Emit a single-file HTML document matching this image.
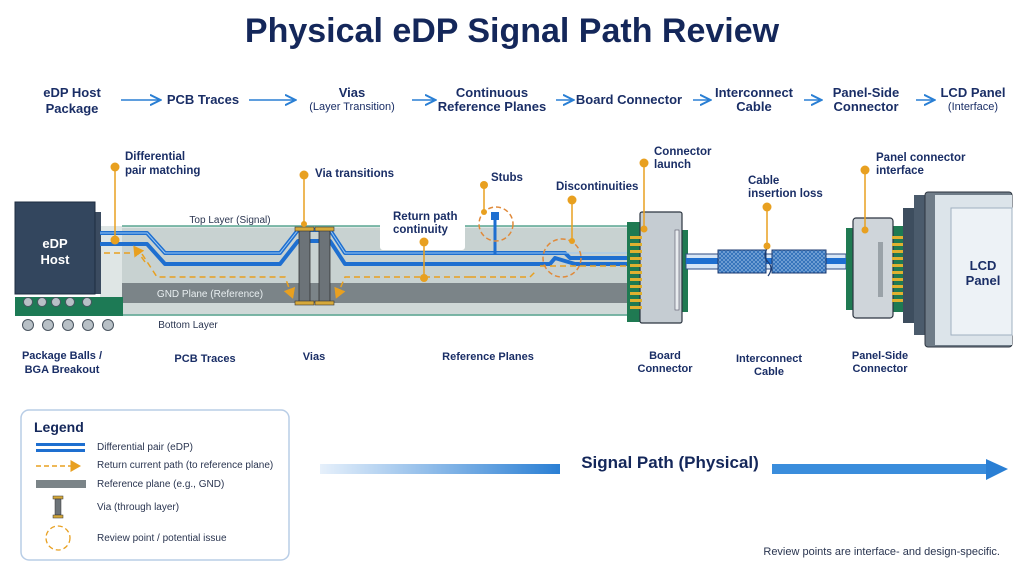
<!DOCTYPE html>
<html><head><meta charset="utf-8"><style>
html,body{margin:0;padding:0;background:#fff;}
svg{display:block;font-family:"Liberation Sans",sans-serif;}
</style></head><body>
<svg width="1024" height="576" viewBox="0 0 1024 576" xmlns="http://www.w3.org/2000/svg">
<defs>
<marker id="ab" markerWidth="8" markerHeight="8" refX="6" refY="4" orient="auto"><path d="M0,0.5 L7,4 L0,7.5" fill="none" stroke="#2a7fd4" stroke-width="1.3"/></marker>
<marker id="ao" markerWidth="8" markerHeight="8" refX="5" refY="4" orient="auto"><path d="M0,0 L7,4 L0,8 Z" fill="#e8a020"/></marker>
<linearGradient id="sg" x1="0" x2="1"><stop offset="0" stop-color="#e6f0fb"/><stop offset="1" stop-color="#2a7fd4"/></linearGradient>
<pattern id="br" width="4" height="4" patternUnits="userSpaceOnUse"><rect width="4" height="4" fill="#2f6fb8"/><path d="M0,4 L4,0 M0,0 L4,4" stroke="#8fb6e2" stroke-width="0.6"/></pattern>
</defs>
<text x="512" y="42" text-anchor="middle" font-size="34" font-weight="bold" fill="#14275a">Physical eDP Signal Path Review</text>

<g font-size="13" font-weight="bold" fill="#1a2e66" text-anchor="middle">
<text x="72" y="97">eDP Host</text><text x="72" y="113">Package</text>
<text x="203" y="104">PCB Traces</text>
<text x="352" y="97">Vias</text><text x="352" y="110" font-size="11" font-weight="normal">(Layer Transition)</text>
<text x="492" y="97">Continuous</text><text x="492" y="111">Reference Planes</text>
<text x="629" y="104">Board Connector</text>
<text x="754" y="97">Interconnect</text><text x="754" y="111">Cable</text>
<text x="866" y="97">Panel-Side</text><text x="866" y="111">Connector</text>
<text x="973" y="97">LCD Panel</text><text x="973" y="110" font-size="11" font-weight="normal">(Interface)</text>
</g>
<g stroke="#2a7fd4" stroke-width="1.5" marker-end="url(#ab)">
<line x1="121" y1="100" x2="159" y2="100"/><line x1="249" y1="100" x2="294" y2="100"/>
<line x1="412" y1="100" x2="434" y2="100"/><line x1="556" y1="100" x2="572" y2="100"/>
<line x1="693" y1="100" x2="709" y2="100"/><line x1="804" y1="100" x2="820" y2="100"/>
<line x1="916" y1="100" x2="933" y2="100"/>
</g>

<!-- PCB -->
<rect x="100" y="226" width="530" height="90" fill="#dfe6e5"/>
<rect x="122" y="228" width="508" height="55" fill="#c8d2d1"/>
<rect x="122" y="283" width="508" height="20" fill="#7b8488"/>
<rect x="122" y="303" width="508" height="12" fill="#cfd8d7"/>
<line x1="122" y1="226" x2="630" y2="226" stroke="#5aa592" stroke-width="1.5"/>
<line x1="122" y1="315" x2="630" y2="315" stroke="#5aa592" stroke-width="1.5"/>
<rect x="380" y="222" width="85" height="28" rx="3" fill="#fff"/>
<text x="230" y="223" text-anchor="middle" font-size="10" fill="#2a3550">Top Layer (Signal)</text>
<text x="210" y="297" text-anchor="middle" font-size="10" fill="#e8eef0">GND Plane (Reference)</text>
<text x="188" y="328" text-anchor="middle" font-size="10" fill="#2a3550">Bottom Layer</text>

<!-- host -->
<rect x="15" y="297" width="108" height="19" fill="#1d7a55"/>
<g fill="#b8c0c6" stroke="#4a5560" stroke-width="1">
<circle cx="28" cy="325" r="5.5"/><circle cx="48" cy="325" r="5.5"/><circle cx="68" cy="325" r="5.5"/><circle cx="88" cy="325" r="5.5"/><circle cx="108" cy="325" r="5.5"/>
<circle cx="28" cy="302" r="4.5"/><circle cx="42" cy="302" r="4.5"/><circle cx="56" cy="302" r="4.5"/><circle cx="70" cy="302" r="4.5"/><circle cx="87" cy="302" r="4.5"/>
</g>
<rect x="93" y="212" width="8" height="82" fill="#3b4b60"/>
<rect x="15" y="202" width="80" height="92" fill="#33465e" stroke="#1e2c40"/>
<text x="55" y="248" text-anchor="middle" font-size="13" font-weight="bold" fill="#fff">eDP</text>
<text x="55" y="264" text-anchor="middle" font-size="13" font-weight="bold" fill="#fff">Host</text>

<!-- traces -->
<g fill="none" stroke-linejoin="round">
<path d="M100,233 H147 L165,253 H280 L298,230 H330 L345,253 H490 L565,253 L570,258 H630" stroke="#1e6fd0" stroke-width="4"/>
<path d="M100,244 H147 L165,264 H280 L298,241 H330 L345,264 H550 L555,258 L575,264 H630" stroke="#1e6fd0" stroke-width="4"/>
<path d="M100,233 H147 L165,253 H280 L298,230 H330 L345,253 H630" stroke="#9cc8f2" stroke-width="1"/>
</g>
<line x1="495" y1="218" x2="495" y2="255" stroke="#1e6fd0" stroke-width="3"/>
<rect x="491" y="212" width="8" height="8" fill="#1e6fd0"/>
<!-- return path -->
<g fill="none" stroke="#e8a020" stroke-width="1.5" stroke-dasharray="6,4">
<path d="M104,253 H130 M142,254 L157,277 H285 L292,296" marker-end="url(#ao)"/>
<path d="M145,262 L135,248" marker-end="url(#ao)"/>
<path d="M470,277 H345 L337,296" marker-end="url(#ao)"/>
<path d="M470,277 L530,277 L535,272 M540,266 H630" />
</g>
<!-- vias -->
<g>
<rect x="299" y="230" width="11" height="72" fill="#6c7378" stroke="#333" stroke-width="0.8"/>
<rect x="319" y="230" width="11" height="72" fill="#6c7378" stroke="#333" stroke-width="0.8"/>
<rect x="295" y="227" width="19" height="4" fill="#d6a93a" stroke="#333" stroke-width="0.6"/>
<rect x="315" y="227" width="19" height="4" fill="#d6a93a" stroke="#333" stroke-width="0.6"/>
<rect x="295" y="301" width="19" height="4" fill="#d6a93a" stroke="#333" stroke-width="0.6"/>
<rect x="315" y="301" width="19" height="4" fill="#d6a93a" stroke="#333" stroke-width="0.6"/>
</g>
<!-- review circles -->
<circle cx="496" cy="224" r="17" fill="none" stroke="#e08a3a" stroke-width="1.5" stroke-dasharray="5,3"/>
<circle cx="562" cy="258" r="19" fill="none" stroke="#e08a3a" stroke-width="1.5" stroke-dasharray="5,3"/>

<!-- board connector -->
<rect x="627" y="222" width="14" height="100" fill="#1f7a52"/>
<rect x="680" y="230" width="8" height="82" fill="#1f7a52"/>
<rect x="640" y="212" width="42" height="111" rx="2" fill="#c5ccd2" stroke="#2c3540" stroke-width="1.2"/>
<rect x="675" y="230" width="4" height="80" fill="#e8ecef" stroke="#556" stroke-width="0.6"/>
<g fill="#e0b030">
<rect x="630" y="236" width="12" height="3"/><rect x="630" y="243" width="12" height="3"/><rect x="630" y="250" width="12" height="3"/><rect x="630" y="257" width="12" height="3"/><rect x="630" y="264" width="12" height="3"/><rect x="630" y="271" width="12" height="3"/><rect x="630" y="278" width="12" height="3"/><rect x="630" y="285" width="12" height="3"/><rect x="630" y="292" width="12" height="3"/><rect x="630" y="299" width="12" height="3"/><rect x="630" y="306" width="12" height="3"/>
</g>
<!-- cable -->
<rect x="686" y="254" width="160" height="15" fill="#d7e6f6" stroke="#2c4a80" stroke-width="1"/>
<rect x="686" y="258" width="160" height="6" fill="#1e6fd0"/>
<rect x="718" y="250" width="48" height="23" fill="url(#br)" stroke="#1b3a70"/>
<rect x="772" y="250" width="54" height="23" fill="url(#br)" stroke="#1b3a70"/>
<path d="M768,247 Q762,256 768,262 Q774,268 768,276" fill="none" stroke="#1b3a70" stroke-width="1.2"/>
<!-- panel connector -->
<rect x="846" y="228" width="8" height="82" fill="#1f7a52"/>
<rect x="892" y="226" width="20" height="86" fill="#1f7a52"/>
<rect x="853" y="218" width="40" height="100" rx="3" fill="#cfd5da" stroke="#2c3540" stroke-width="1.2"/>
<rect x="878" y="242" width="5" height="55" fill="#9aa2a8"/>
<g fill="#e0b030">
<rect x="892" y="236" width="12" height="3"/><rect x="892" y="243" width="12" height="3"/><rect x="892" y="250" width="12" height="3"/><rect x="892" y="257" width="12" height="3"/><rect x="892" y="264" width="12" height="3"/><rect x="892" y="271" width="12" height="3"/><rect x="892" y="278" width="12" height="3"/><rect x="892" y="285" width="12" height="3"/><rect x="892" y="292" width="12" height="3"/><rect x="892" y="299" width="12" height="3"/>
</g>
<!-- LCD -->
<rect x="903" y="208" width="14" height="115" fill="#3d4d5e"/>
<rect x="914" y="195" width="14" height="140" fill="#4b5b6c"/>
<rect x="925" y="192" width="87" height="155" rx="3" fill="#6f7c88" stroke="#2c3540"/>
<rect x="935" y="195" width="77" height="150" fill="#dce4ea"/>
<rect x="951" y="208" width="61" height="127" fill="#edf2f6" stroke="#9fb0c0"/>
<text x="983" y="270" text-anchor="middle" font-size="13" font-weight="bold" fill="#1a2e66">LCD</text>
<text x="983" y="285" text-anchor="middle" font-size="13" font-weight="bold" fill="#1a2e66">Panel</text>

<!-- callouts -->
<g stroke="#e8a020" stroke-width="1.5">
<line x1="115" y1="167" x2="115" y2="240"/><line x1="304" y1="175" x2="304" y2="224"/>
<line x1="484" y1="185" x2="484" y2="212"/><line x1="424" y1="242" x2="424" y2="278"/>
<line x1="572" y1="200" x2="572" y2="241"/><line x1="644" y1="163" x2="644" y2="229"/>
<line x1="767" y1="207" x2="767" y2="246"/><line x1="865" y1="170" x2="865" y2="230"/>
</g>
<g fill="#e8a020">
<circle cx="115" cy="167" r="4.5"/><circle cx="115" cy="240" r="4.5"/><circle cx="304" cy="175" r="4.5"/><circle cx="304" cy="224" r="3"/>
<circle cx="484" cy="185" r="4"/><circle cx="484" cy="212" r="3"/><circle cx="424" cy="242" r="4.5"/><circle cx="424" cy="278" r="4"/>
<circle cx="572" cy="200" r="4.5"/><circle cx="572" cy="241" r="3"/><circle cx="644" cy="163" r="4.5"/><circle cx="644" cy="229" r="3.5"/>
<circle cx="767" cy="207" r="4.5"/><circle cx="767" cy="246" r="3.5"/><circle cx="865" cy="170" r="4.5"/><circle cx="865" cy="230" r="3.5"/>
</g>
<g font-size="11.5" font-weight="bold" fill="#1a2e66">
<text x="125" y="160">Differential</text><text x="125" y="174">pair matching</text>
<text x="315" y="177">Via transitions</text>
<text x="491" y="181">Stubs</text>
<text x="393" y="220">Return path</text><text x="393" y="233">continuity</text>
<text x="556" y="190">Discontinuities</text>
<text x="654" y="155">Connector</text><text x="654" y="168">launch</text>
<text x="748" y="184">Cable</text><text x="748" y="197">insertion loss</text>
<text x="876" y="161">Panel connector</text><text x="876" y="174">interface</text>
</g>

<g font-size="11" font-weight="bold" fill="#1a2e66" text-anchor="middle">
<text x="62" y="359">Package Balls /</text><text x="62" y="373">BGA Breakout</text>
<text x="205" y="362">PCB Traces</text>
<text x="314" y="360">Vias</text>
<text x="488" y="360">Reference Planes</text>
<text x="665" y="359">Board</text><text x="665" y="372">Connector</text>
<text x="769" y="362">Interconnect</text><text x="769" y="375">Cable</text>
<text x="880" y="359">Panel-Side</text><text x="880" y="372">Connector</text>
</g>

<!-- legend -->
<rect x="21" y="410" width="268" height="150" rx="8" fill="#fff" stroke="#b8cde6" stroke-width="1.5"/>
<text x="34" y="432" font-size="14" font-weight="bold" fill="#14275a">Legend</text>
<rect x="36" y="443" width="49" height="3" fill="#1e6fd0"/><rect x="36" y="449" width="49" height="3" fill="#1e6fd0"/>
<line x1="36" y1="466" x2="78" y2="466" stroke="#e8a020" stroke-width="1.5" stroke-dasharray="5,3" marker-end="url(#ao)"/>
<rect x="36" y="480" width="50" height="8" fill="#7b8488"/>
<rect x="53" y="496" width="10" height="3" fill="#d6a93a" stroke="#333" stroke-width="0.5"/>
<rect x="55" y="499" width="6" height="16" fill="#6c7378" stroke="#333" stroke-width="0.5"/>
<rect x="53" y="515" width="10" height="3" fill="#d6a93a" stroke="#333" stroke-width="0.5"/>
<circle cx="58" cy="538" r="12" fill="none" stroke="#e8a020" stroke-width="1.3" stroke-dasharray="5,3"/>
<g font-size="10" fill="#2a3550">
<text x="97" y="450">Differential pair (eDP)</text>
<text x="97" y="468">Return current path (to reference plane)</text>
<text x="97" y="487">Reference plane (e.g., GND)</text>
<text x="97" y="510">Via (through layer)</text>
<text x="97" y="541">Review point / potential issue</text>
</g>

<!-- signal path arrow -->
<rect x="320" y="464" width="240" height="10" fill="url(#sg)"/>
<rect x="772" y="464" width="216" height="10" fill="#3a8ddc"/>
<rect x="560" y="464" width="212" height="10" fill="#fff"/>
<polygon points="986,459 1008,469 986,480" fill="#2a7fd4"/>
<text x="670" y="468" text-anchor="middle" font-size="17" font-weight="bold" fill="#14275a">Signal Path (Physical)</text>
<text x="1000" y="555" text-anchor="end" font-size="11" fill="#2a3550">Review points are interface- and design-specific.</text>
</svg>
</body></html>
